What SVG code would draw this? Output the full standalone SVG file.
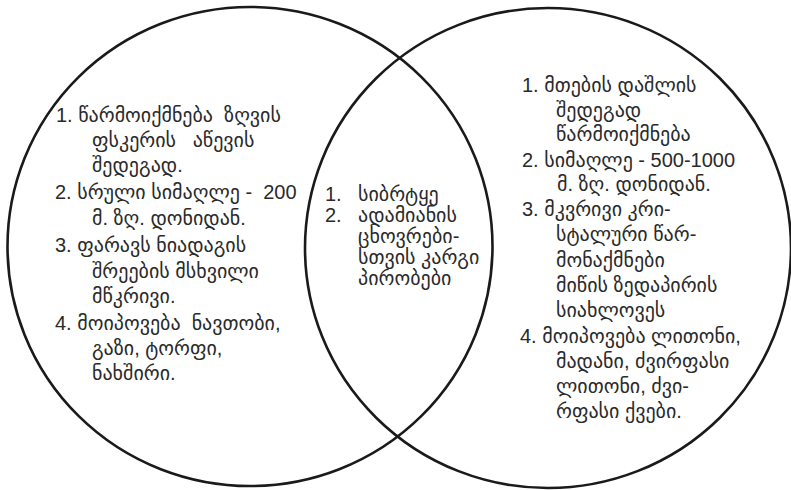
<svg xmlns="http://www.w3.org/2000/svg" width="791" height="490" viewBox="0 0 791 490">
<style>
.c{fill:none;stroke:#1a1a1a;stroke-width:2.6}
.t{font-family:'Liberation Sans','DejaVu Sans',sans-serif;font-size:20px;fill:#2a2a2a}
</style>
<rect width="791" height="490" fill="#fff"/>
<g id="left-circle"><ellipse class="c" cx="250" cy="246.5" rx="242.5" ry="239.5"/></g>
<g id="right-circle"><ellipse class="c" cx="548" cy="248" rx="243" ry="240"/></g>
<g id="left-text" class="t">
<text x="56" y="122">1. წარმოიქმნება&#160; ზღვის</text>
<text x="92" y="147">ფსკერის&#160;&#160; აწევის</text>
<text x="92" y="172">შედეგად.</text>
<text x="55" y="199">2. სრული სიმაღლე -&#160; 200</text>
<text x="92" y="225">მ. ზღ. დონიდან.</text>
<text x="55" y="252">3. ფარავს ნიადაგის</text>
<text x="92" y="278">შრეების მსხვილი</text>
<text x="92" y="303">მწკრივი.</text>
<text x="55" y="330">4. მოიპოვება&#160; ნავთობი,</text>
<text x="92" y="355">გაზი, ტორფი,</text>
<text x="92" y="380">ნახშირი.</text>
</g>
<g id="middle-text" class="t">
<text x="325" y="201">1.</text><text x="358" y="201">სიბრტყე</text>
<text x="325" y="222">2.</text><text x="358" y="222">ადამიანის</text>
<text x="358" y="243">ცხოვრები-</text>
<text x="358" y="264">სთვის კარგი</text>
<text x="358" y="285">პირობები</text>
</g>
<g id="right-text" class="t">
<text x="522" y="92">1. მთების დაშლის</text>
<text x="556" y="117">შედეგად</text>
<text x="556" y="141">წარმოიქმნება</text>
<text x="522" y="167">2. სიმაღლე - 500-1000</text>
<text x="557" y="191">მ. ზღ. დონიდან.</text>
<text x="522" y="216">3. მკვრივი კრი-</text>
<text x="556" y="241">სტალური წარ-</text>
<text x="556" y="267">მონაქმნები</text>
<text x="556" y="292">მიწის ზედაპირის</text>
<text x="556" y="317">სიახლოვეს</text>
<text x="520" y="343">4. მოიპოვება ლითონი,</text>
<text x="556" y="368">მადანი, ძვირფასი</text>
<text x="556" y="393">ლითონი, ძვი-</text>
<text x="556" y="418">რფასი ქვები.</text>
</g>
</svg>
